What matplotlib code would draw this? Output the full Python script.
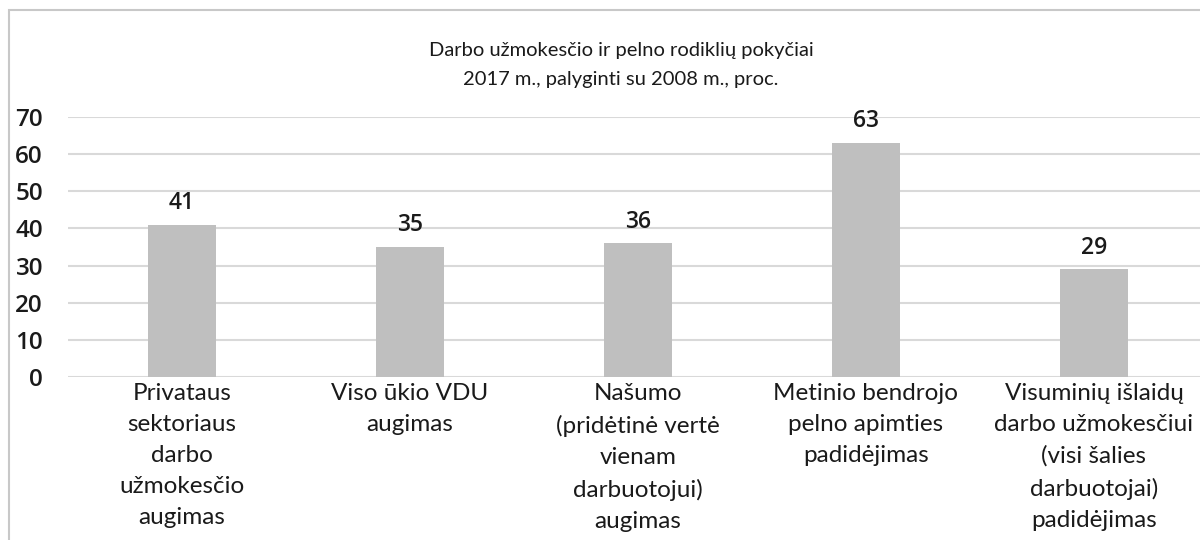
import matplotlib
matplotlib.use('Agg')
from matplotlib import pyplot as plt
from matplotlib.patches import Rectangle
import numpy as np

# Duomenys
categories = [
    'Privataus\nsektoriaus\ndarbo\nužmokesčio\naugimas',
    'Viso ūkio VDU\naugimas',
    'Našumo\n(pridėtinė vertė\nvienam\ndarbuotojui)\naugimas',
    'Metinio bendrojo\npelno apimties\npadidėjimas',
    'Visuminių išlaidų\ndarbo užmokesčiui\n(visi šalies\ndarbuotojai)\npadidėjimas',
]
values = [41, 35, 36, 63, 29]
y_ticks = [0, 10, 20, 30, 40, 50, 60, 70]
title = 'Darbo užmokesčio ir pelno rodiklių pokyčiai\n2017 m., palyginti su 2008 m., proc.'

plt.rcParams['font.family'] = ['Lato', 'DejaVu Sans']

fig = plt.figure(figsize=(12, 5.4), dpi=100)
ax = fig.add_axes([68 / 1200, 1 - 377 / 540, 1 - 68 / 1200, (377 - 117) / 540])

x = np.arange(len(values))
rect = ax.bar(x, values, width=0.30, color='#bfbfbf', zorder=2)

ax.set_ylim(0, 70)
ax.set_xlim(-0.5, 4.465)
ax.set_yticks(y_ticks)
ax.set_yticklabels([str(v) for v in y_ticks], fontsize=17.5, color='#1a1a1a',
                   family=['Open Sans', 'DejaVu Sans'], fontweight='semibold')
ax.tick_params(axis='y', length=0, pad=18)
ax.set_xticks(x)
ax.set_xticklabels(categories, fontsize=17.5, color='#1a1a1a', linespacing=1.6)
ax.tick_params(axis='x', length=0, pad=4)
ax.grid(axis='y', color='#d9d9d9', linewidth=1.5, zorder=0)
for s in ax.spines.values():
    s.set_visible(False)

for item in rect:
    h = item.get_height()
    ax.annotate('{}'.format(int(h)),
                xy=(item.get_x() + item.get_width() / 2, h),
                xytext=(0, 7), textcoords='offset points',
                ha='center', va='bottom', fontsize=16.5, color='#1a1a1a',
                family=['Open Sans', 'DejaVu Sans'], fontweight='semibold')

fig.text(621 / 1200, 1 - 65 / 540, title, ha='center', va='center',
         fontsize=14.5, color='#1a1a1a', linespacing=1.9)

# rėmelis
fig.patches.append(Rectangle((9 / 1200, -0.1), 1.2, 1 - 10 / 540 + 0.1,
                             transform=fig.transFigure, fill=False,
                             edgecolor='#c8c8c8', linewidth=1.5))

plt.savefig('out.png', dpi=100)
